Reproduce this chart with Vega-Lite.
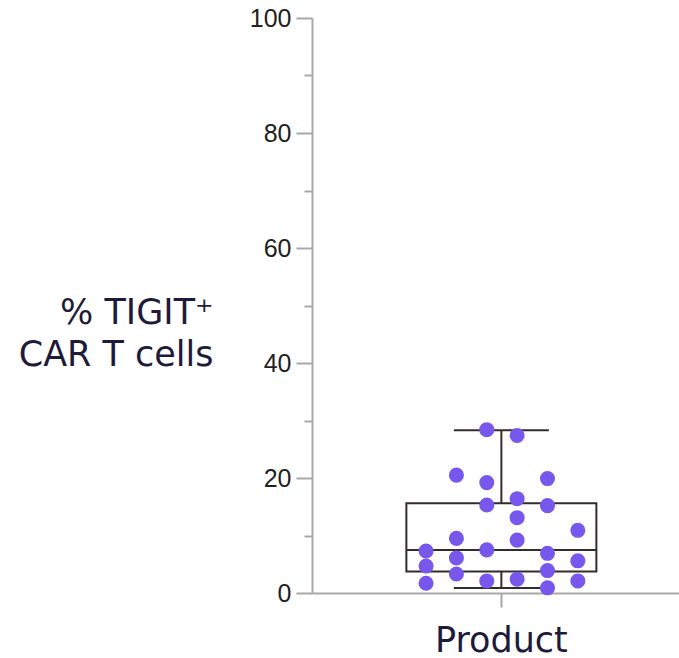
{
  "$schema": "https://vega.github.io/schema/vega-lite/v6.json",
  "autosize": {"type": "fit", "contains": "padding"},
  "width": 679,
  "height": 658,
  "padding": {"left": 18, "top": 6, "right": 0, "bottom": 0},
  "background": "white",
  "config": {"view": {"stroke": null}},
  "datasets": {
    "points": [
      {"group": "Product", "col": 1, "value": 7.3},
      {"group": "Product", "col": 1, "value": 4.7},
      {"group": "Product", "col": 1, "value": 1.7},
      {"group": "Product", "col": 2, "value": 20.5},
      {"group": "Product", "col": 2, "value": 9.5},
      {"group": "Product", "col": 2, "value": 6.1},
      {"group": "Product", "col": 2, "value": 3.3},
      {"group": "Product", "col": 3, "value": 28.4},
      {"group": "Product", "col": 3, "value": 19.2},
      {"group": "Product", "col": 3, "value": 15.3},
      {"group": "Product", "col": 3, "value": 7.5},
      {"group": "Product", "col": 3, "value": 2.1},
      {"group": "Product", "col": 4, "value": 27.4},
      {"group": "Product", "col": 4, "value": 16.4},
      {"group": "Product", "col": 4, "value": 13.1},
      {"group": "Product", "col": 4, "value": 9.2},
      {"group": "Product", "col": 4, "value": 2.4},
      {"group": "Product", "col": 5, "value": 19.9},
      {"group": "Product", "col": 5, "value": 15.2},
      {"group": "Product", "col": 5, "value": 6.9},
      {"group": "Product", "col": 5, "value": 3.9},
      {"group": "Product", "col": 5, "value": 0.9},
      {"group": "Product", "col": 6, "value": 10.9},
      {"group": "Product", "col": 6, "value": 5.6},
      {"group": "Product", "col": 6, "value": 2.1}
    ],
    "box": [
      {"group": "Product", "lo": 0.87, "q1": 3.76, "median": 7.46, "q3": 15.6, "hi": 28.3}
    ]
  },
  "resolve": {"scale": {"x": "independent"}, "axis": {"x": "independent"}},
  "layer": [
    {
      "data": {"name": "box"},
      "layer": [
        {
          "mark": {"type": "rule", "color": "#332c2c", "strokeWidth": 2},
          "encoding": {
            "y": {"field": "lo", "type": "quantitative"},
            "y2": {"field": "hi"}
          }
        },
        {
          "mark": {"type": "bar", "width": 190, "fill": "white", "stroke": "#332c2c", "strokeWidth": 2},
          "encoding": {
            "y": {"field": "q1", "type": "quantitative"},
            "y2": {"field": "q3"}
          }
        },
        {
          "mark": {"type": "tick", "size": 190, "thickness": 2, "color": "#332c2c", "opacity": 1},
          "encoding": {"y": {"field": "median", "type": "quantitative"}}
        },
        {
          "mark": {"type": "tick", "size": 95, "thickness": 2, "color": "#332c2c", "opacity": 1},
          "encoding": {"y": {"field": "lo", "type": "quantitative"}}
        },
        {
          "mark": {"type": "tick", "size": 95, "thickness": 2, "color": "#332c2c", "opacity": 1},
          "encoding": {"y": {"field": "hi", "type": "quantitative"}}
        }
      ],
      "encoding": {
        "x": {
          "field": "group",
          "type": "nominal",
          "scale": {"paddingInner": 0, "paddingOuter": 0.5, "align": 0.532},
          "axis": {
            "title": null,
            "labelAngle": 0,
            "labelFont": "DejaVu Sans",
            "labelFontSize": 35,
            "labelColor": "#1e1b3a",
            "labelPadding": 16,
            "tickSize": 14,
            "tickColor": "#a8a8a8",
            "tickWidth": 2,
            "domainColor": "#a8a8a8",
            "domainWidth": 2
          }
        }
      }
    },
    {
      "data": {"name": "points"},
      "mark": {"type": "circle", "size": 227, "color": "#7858ec", "opacity": 1},
      "encoding": {
        "x": {
          "field": "col",
          "type": "quantitative",
          "scale": {"domain": [-2.758, 9.333], "nice": false, "zero": false},
          "axis": null
        },
        "y": {
          "field": "value",
          "type": "quantitative",
          "scale": {"domain": [0, 100], "nice": false, "zero": true},
          "axis": {
            "title": ["% TIGIT⁺", "CAR T cells"],
            "titleAngle": 0,
            "titleAlign": "right",
            "titleBaseline": "middle",
            "titleX": -99,
            "titleY": 294,
            "titleFont": "DejaVu Sans",
            "titleFontSize": 35,
            "titleFontWeight": "normal",
            "titleColor": "#1e1b3a",
            "titleLineHeight": 42,
            "values": [0, 10, 20, 30, 40, 50, 60, 70, 80, 90, 100],
            "labelExpr": "datum.value % 20 === 0 ? datum.label : ''",
            "labelFont": "Liberation Sans",
            "labelFontSize": 25,
            "labelColor": "#231f20",
            "labelPadding": 5,
            "tickSize": {"condition": {"test": "datum.value % 20 === 0", "value": 16}, "value": 8},
            "tickColor": "#a8a8a8",
            "tickWidth": 2,
            "domainColor": "#a8a8a8",
            "domainWidth": 2,
            "grid": false
          }
        }
      }
    }
  ]
}
